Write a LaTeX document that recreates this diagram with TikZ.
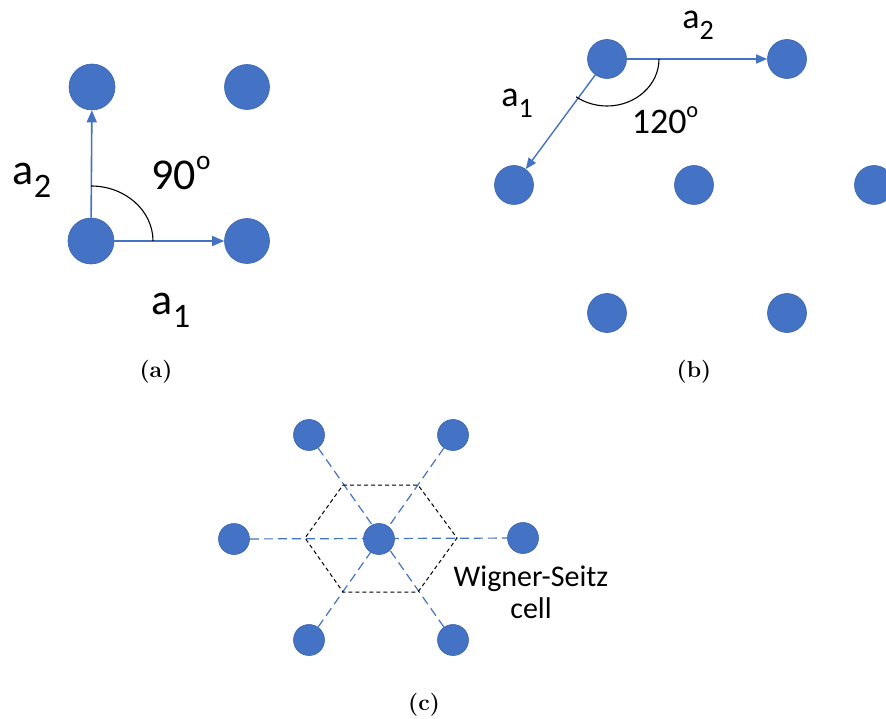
\documentclass[tikz,border=0pt]{standalone}
\usepackage{fontspec}
\newfontfamily\calib{Carlito}
\usetikzlibrary{arrows.meta,backgrounds}
\definecolor{dotblue}{HTML}{4472C4}
\definecolor{dotedge}{HTML}{3A63AD}
\newcommand\vecsub[2]{#1\raisebox{-0.3em}{\fontsize{0.78em}{1em}\selectfont #2}}
\newcommand\degsup[1]{#1\raisebox{0.45em}{\fontsize{0.62em}{1em}\selectfont o}}
\begin{document}
\begin{tikzpicture}[x=1pt,y=-1pt,
  dot/.style={circle,fill=dotblue,draw=dotedge,line width=0.6pt,inner sep=0pt,minimum size=#1},
  dot/.default=46pt,
  vec/.style={draw=dotblue,line width=1.6pt,-{Triangle[length=12pt,width=10pt]}},
  vecb/.style={draw=dotblue,line width=1.4pt,-{Triangle[length=11pt,width=9pt]}},
  angarc/.style={draw=black,line width=1.1pt},
  lbl/.style={font=\calib\fontsize{44}{46}\selectfont,inner sep=0pt},
  lblb/.style={font=\calib\fontsize{36}{38}\selectfont,inner sep=0pt},
  captxt/.style={font=\fontsize{23}{26}\selectfont\bfseries,inner sep=0pt},
  bond/.style={draw=dotblue,line width=1.2pt,dash pattern=on 9pt off 5pt},
  wscell/.style={draw=black,line width=1pt,dash pattern=on 4pt off 3pt}]
\useasboundingbox (0,0) rectangle (886,719);
\clip (0,0) rectangle (886,719);
% (a)
\node[dot=46pt] (a00) at (91,241) {};
\node[dot=45pt] (a10) at (247,241) {};
\node[dot=46pt] (a01) at (92,87) {};
\node[dot=45pt] (a11) at (247,87) {};
\draw[vec] (a00) -- (a10);
\draw[vec] (a00) -- (a01);
\draw[angarc] ([xshift=62pt]a00.center) arc[start angle=0,end angle=90,x radius=62pt,y radius=55pt];
\node[lbl] (t90) at (181,173) {\degsup{90}};
\node[lbl] (ta2) at (32,180) {\vecsub{a}{2}};
\node[lbl] (ta1) at (171,310) {\vecsub{a}{1}};
\node[captxt] (capa) at (156,372) {(a)};
% (b)
\node[dot=39pt] (b0) at (607,59) {};
\node[dot=39pt] (b1) at (787,59) {};
\node[dot=39pt] (b2) at (514,185) {};
\node[dot=39pt] (b3) at (694,185) {};
\node[dot=39pt] (b4) at (874,185) {};
\node[dot=39pt] (b5) at (607,313) {};
\node[dot=39pt] (b6) at (787,313) {};
\draw[vecb] (b0) -- (b1);
\draw[vecb] (b0) -- (b2);
\draw[angarc] ([xshift=52pt]b0.center) arc[start angle=0,end angle=-126.4,x radius=52pt,y radius=47pt];
\node[lblb] (tb2) at (698,25) {\vecsub{a}{2}};
\node[lblb] (tb1) at (517,103) {\vecsub{a}{1}};
\node[lblb] (t120) at (665,120) {\degsup{120}};
\node[captxt] (capb) at (694,372) {(b)};
% (c)
\node[dot=31pt] (c0) at (379,539) {};
\node[dot=31pt] (ctl) at (309,435) {};
\node[dot=31pt] (ctr) at (453,435) {};
\node[dot=31pt] (cl) at (234,539) {};
\node[dot=31pt] (cr) at (523,538) {};
\node[dot=31pt] (cbl) at (309,640) {};
\node[dot=31pt] (cbr) at (453,640) {};
\begin{scope}[on background layer]
\draw[bond] (ctl) -- (cbr);
\draw[bond] (ctr) -- (cbl);
\draw[bond] (cl) -- (cr);
\end{scope}
\coordinate (h1) at (343,485);
\coordinate (h2) at (418,485);
\coordinate (h3) at (457,538);
\coordinate (h4) at (418,592);
\coordinate (h5) at (343,592);
\coordinate (h6) at (305,538);
\draw[wscell] (h1) -- (h2) -- (h3) -- (h4) -- (h5) -- (h6) -- cycle;
\node[lbl,font=\calib\fontsize{30}{32}\selectfont,align=center] (ws) at (531,592) {Wigner-Seitz\\cell};
\node[captxt] (capc) at (424,705) {(c)};
\end{tikzpicture}
\end{document}
